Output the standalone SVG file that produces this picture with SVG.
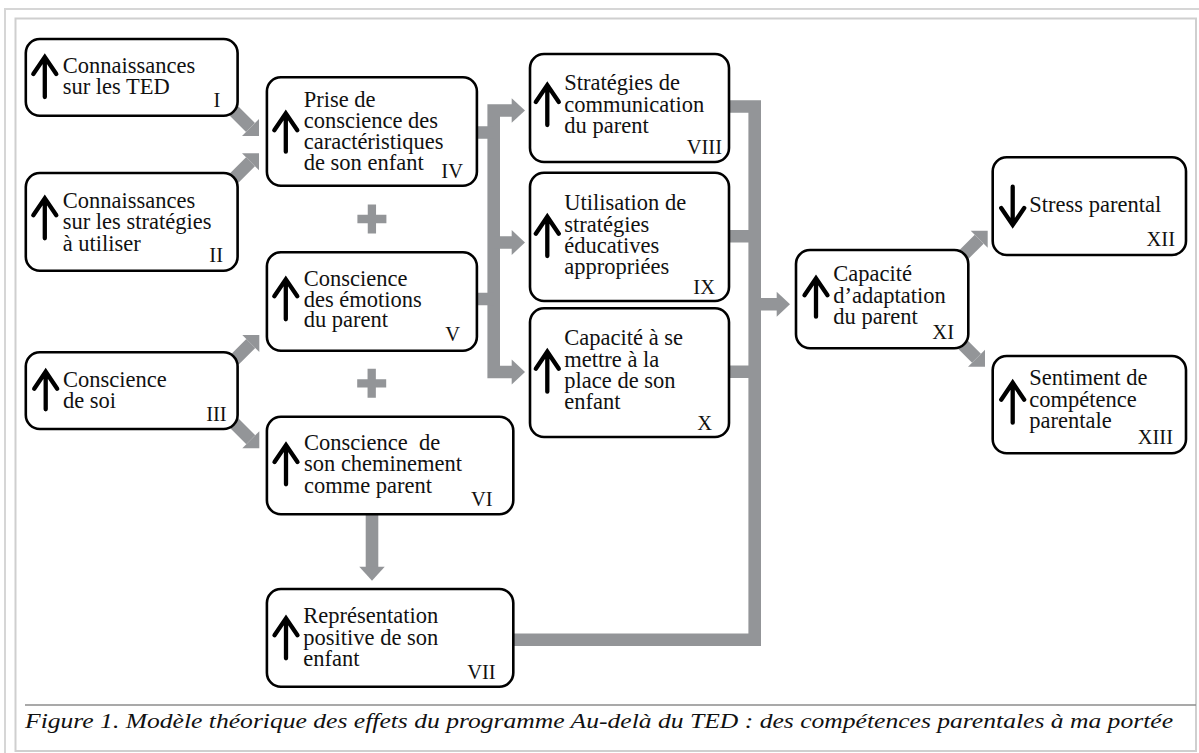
<svg xmlns="http://www.w3.org/2000/svg" width="1199" height="753" viewBox="0 0 1199 753">
<defs>
<style>
.box{fill:#fff;stroke:#000;stroke-width:2.6}
.t{font-family:"Liberation Serif","Times New Roman",serif;font-size:22.5px;fill:#111}
.n{font-family:"Liberation Serif","Times New Roman",serif;font-size:20.5px;fill:#111;text-anchor:end}
.ico{fill:none;stroke:#000;stroke-width:4.3;stroke-linecap:round;stroke-linejoin:miter}
.bar{fill:none;stroke:#939598;stroke-width:12.6;stroke-linecap:butt;stroke-linejoin:miter}
.head{fill:#939598}
.plus{fill:none;stroke:#939598;stroke-width:8.3}
.cap{font-family:"Liberation Serif","Times New Roman",serif;font-style:italic;font-size:20px;fill:#111}
</style>
</defs>
<rect width="1199" height="753" fill="#fff"/>
<g id="frame">
<rect x="5" y="9" width="1200" height="750" fill="none" stroke="#d6d6d6" stroke-width="2"/>
<rect x="15.5" y="18.5" width="1180.5" height="732.5" fill="none" stroke="#cfcfcf" stroke-width="2"/>
<line x1="25" y1="705" x2="1196" y2="705" stroke="#8c8c8c" stroke-width="1.4"/>
</g>
<g id="connectors">
<line class="bar" x1="225" y1="102" x2="250.5" y2="127.5"/>
<polygon class="head" points="259,136 242,136 259,119"/>
<line class="bar" x1="225" y1="187.3" x2="250.5" y2="161.8"/>
<polygon class="head" points="259,153.3 242,153.3 259,170.3"/>
<line class="bar" x1="225" y1="369.3" x2="250.8" y2="343.5"/>
<polygon class="head" points="259.3,335 242.3,335 259.3,352"/>
<line class="bar" x1="225" y1="414" x2="250.8" y2="439.8"/>
<polygon class="head" points="259.3,448.3 242.3,448.3 259.3,431.3"/>
<path class="bar" d="M512,110.5 H493.7 V372 H512"/>
<path class="bar" d="M470,132.5 H494 M470,299 H494 M494,242.5 H512"/>
<polygon class="head" points="511.7,98.3 525,110.5 511.7,122.7"/>
<polygon class="head" points="511.7,230 525,242.5 511.7,255"/>
<polygon class="head" points="511.7,359.5 525,372 511.7,384.5"/>
<path class="bar" d="M372,510 V567"/>
<polygon class="head" points="359.3,566.7 372,580.7 384.7,566.7"/>
<path class="bar" d="M720,106.5 H754.7 V639.7 H505"/>
<path class="bar" d="M720,236.3 H755 M720,371.7 H755 M755,304.2 H777"/>
<polygon class="head" points="776.7,291.7 790,304.2 776.7,316.7"/>
<line class="bar" x1="955" y1="263.4" x2="979.2" y2="239.2"/>
<polygon class="head" points="987.7,230.7 970.7,230.7 987.7,247.7"/>
<line class="bar" x1="955" y1="336.7" x2="976.5" y2="358.2"/>
<polygon class="head" points="985,366.7 968,366.7 985,349.7"/>
<path class="plus" d="M357.4,219 H386.4 M371.9,204.5 V233.5"/>
<path class="plus" d="M357.2,383.3 H386.2 M371.7,368.8 V397.8"/>
</g>
<g id="node-I">
<rect class="box" x="25.8" y="39" width="211.8" height="76.7" rx="14"/>
<path class="ico" d="M44.8,97 V59 M33.3,74 L44.8,57 L56.3,74"/>
<text class="t" x="62.7" y="72.7">Connaissances</text>
<text class="t" x="62.7" y="93.5">sur les TED</text>
<text class="n" x="220.4" y="106.7">I</text>
</g>
<g id="node-II">
<rect class="box" x="25.8" y="173" width="211.8" height="97.7" rx="14"/>
<path class="ico" d="M44.8,238.3 V200.3 M33.3,215.3 L44.8,198.3 L56.3,215.3"/>
<text class="t" x="62.7" y="208.3">Connaissances</text>
<text class="t" x="62.7" y="229.4">sur les stratégies</text>
<text class="t" x="62.7" y="250.7">à utiliser</text>
<text class="n" x="223" y="262.3">II</text>
</g>
<g id="node-III">
<rect class="box" x="25.8" y="352.3" width="211.8" height="76.7" rx="14"/>
<path class="ico" d="M45.7,409.3 V373.7 M34.2,388.7 L45.7,371.7 L57.2,388.7"/>
<text class="t" x="63" y="386.7">Conscience</text>
<text class="t" x="63" y="408.3">de soi</text>
<text class="n" x="226.7" y="420.7">III</text>
</g>
<g id="node-IV">
<rect class="box" x="266.9" y="77.3" width="210" height="108.4" rx="14"/>
<path class="ico" d="M285.8,151.7 V115.3 M274.3,130.3 L285.8,113.3 L297.3,130.3"/>
<text class="t" x="303.7" y="106.7">Prise de</text>
<text class="t" x="303.7" y="127.5">conscience des</text>
<text class="t" x="303.7" y="148.5">caractéristiques</text>
<text class="t" x="303.7" y="170">de son enfant</text>
<text class="n" x="463" y="178.3">IV</text>
</g>
<g id="node-V">
<rect class="box" x="266.9" y="252.3" width="210" height="98.4" rx="14"/>
<path class="ico" d="M285.8,319.3 V281.3 M274.3,296.3 L285.8,279.3 L297.3,296.3"/>
<text class="t" x="303.7" y="286">Conscience</text>
<text class="t" x="303.7" y="306.5">des émotions</text>
<text class="t" x="303.7" y="327">du parent</text>
<text class="n" x="460" y="340.7">V</text>
</g>
<g id="node-VI">
<rect class="box" x="266.9" y="416.7" width="246.4" height="97.6" rx="14"/>
<path class="ico" d="M286,484.3 V447 M274.5,462 L286,445 L297.5,462"/>
<text class="t" x="304" y="450" style="white-space:pre">Conscience  de</text>
<text class="t" x="304" y="471">son cheminement</text>
<text class="t" x="304" y="492.7">comme parent</text>
<text class="n" x="492.7" y="506">VI</text>
</g>
<g id="node-VII">
<rect class="box" x="266.9" y="589" width="246.4" height="97.7" rx="14"/>
<path class="ico" d="M286,658.3 V620.3 M274.5,635.3 L286,618.3 L297.5,635.3"/>
<text class="t" x="303.3" y="623.3">Représentation</text>
<text class="t" x="303.3" y="645">positive de son</text>
<text class="t" x="303.3" y="665.7">enfant</text>
<text class="n" x="495.7" y="679">VII</text>
</g>
<g id="node-VIII">
<rect class="box" x="530" y="54" width="199" height="108" rx="14"/>
<path class="ico" d="M547.3,125 V87 M535.8,102 L547.3,85 L558.8,102"/>
<text class="t" x="564.3" y="90">Stratégies de</text>
<text class="t" x="564.3" y="112">communication</text>
<text class="t" x="564.3" y="133">du parent</text>
<text class="n" x="722" y="154">VIII</text>
</g>
<g id="node-IX">
<rect class="box" x="530" y="172.7" width="199" height="128.3" rx="14"/>
<path class="ico" d="M547.3,256 V218.7 M535.8,233.7 L547.3,216.7 L558.8,233.7"/>
<text class="t" x="564.3" y="210">Utilisation de</text>
<text class="t" x="564.3" y="232">stratégies</text>
<text class="t" x="564.3" y="253">éducatives</text>
<text class="t" x="564.3" y="273.5">appropriées</text>
<text class="n" x="715" y="294">IX</text>
</g>
<g id="node-X">
<rect class="box" x="530" y="308.3" width="199" height="128.7" rx="14"/>
<path class="ico" d="M547.3,391.7 V353.7 M535.8,368.7 L547.3,351.7 L558.8,368.7"/>
<text class="t" x="564.3" y="345">Capacité à se</text>
<text class="t" x="564.3" y="367">mettre à la</text>
<text class="t" x="564.3" y="388">place de son</text>
<text class="t" x="564.3" y="408.5">enfant</text>
<text class="n" x="712" y="430">X</text>
</g>
<g id="node-XI">
<rect class="box" x="796" y="250" width="172.3" height="98.3" rx="14"/>
<path class="ico" d="M816,316.7 V280.3 M804.5,295.3 L816,278.3 L827.5,295.3"/>
<text class="t" x="833.3" y="280.5">Capacité</text>
<text class="t" x="833.3" y="303">d’adaptation</text>
<text class="t" x="833.3" y="324.3">du parent</text>
<text class="n" x="954" y="339">XI</text>
</g>
<g id="node-XII">
<rect class="box" x="992.7" y="157.3" width="193.3" height="97.7" rx="14"/>
<path class="ico" d="M1012.7,186.7 V223 M1001.2,208 L1012.7,225 L1024.2,208"/>
<text class="t" x="1029.3" y="211.7">Stress parental</text>
<text class="n" x="1175" y="246">XII</text>
</g>
<g id="node-XIII">
<rect class="box" x="992.7" y="356" width="193.3" height="97.3" rx="14"/>
<path class="ico" d="M1012.7,422.7 V384.7 M1001.2,399.7 L1012.7,382.7 L1024.2,399.7"/>
<text class="t" x="1029.3" y="385">Sentiment de</text>
<text class="t" x="1029.3" y="406.7">compétence</text>
<text class="t" x="1029.3" y="427.5">parentale</text>
<text class="n" x="1173" y="444">XIII</text>
</g>
<g id="caption">
<text class="cap" x="25" y="728" textLength="1148" lengthAdjust="spacingAndGlyphs">Figure 1. Modèle théorique des effets du programme Au-delà du TED : des compétences parentales à ma portée</text>
</g>
</svg>
